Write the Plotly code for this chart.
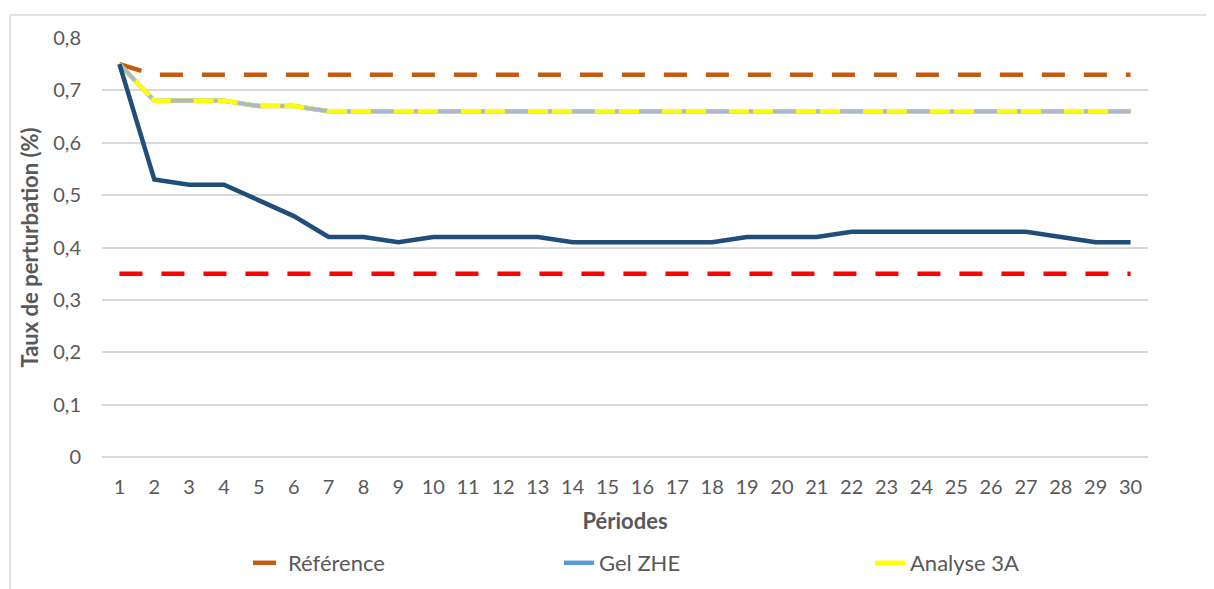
import plotly.graph_objects as go

periods = list(range(1, 31))
reference = [0.75] + [0.73] * 29
seuil_bas = [0.35] * 30
gel_zhe = [0.75, 0.53, 0.52, 0.52, 0.49, 0.46, 0.42, 0.42, 0.41, 0.42,
           0.42, 0.42, 0.42, 0.41, 0.41, 0.41, 0.41, 0.41, 0.42, 0.42,
           0.42, 0.43, 0.43, 0.43, 0.43, 0.43, 0.43, 0.42, 0.41, 0.41]
analyse_3a = [0.75, 0.68, 0.68, 0.68, 0.67, 0.67] + [0.66] * 24
y_ticks = [0, 0.1, 0.2, 0.3, 0.4, 0.5, 0.6, 0.7, 0.8]
x_labels = [str(p) for p in periods]

FONT = "Lato"
GREY = "#595959"

fig = go.Figure()

fig.add_trace(go.Scatter(x=x_labels, y=seuil_bas, mode="lines", showlegend=False,
                         line=dict(color="#FF0000", width=4.5, dash="23px,19px")))
fig.add_trace(go.Scatter(x=x_labels, y=reference, mode="lines", name="Référence",
                         line=dict(color="#C55A11", width=4.5, dash="23px,19px")))
fig.add_trace(go.Scatter(x=x_labels, y=analyse_3a, mode="lines", name="Gel ZHE",
                         line=dict(color="#5B9BD5", width=4.5)))
fig.add_trace(go.Scatter(x=x_labels, y=analyse_3a, mode="lines", name="Analyse 3A",
                         line=dict(color="#FFFF00", width=4.5)))
fig.add_trace(go.Scatter(x=x_labels, y=analyse_3a, mode="lines", showlegend=False,
                         line=dict(color="#ADB9CA", width=4, dash="23px,20px,4px,20px")))
fig.add_trace(go.Scatter(x=x_labels, y=gel_zhe, mode="lines", showlegend=False,
                         line=dict(color="#1F4E79", width=4.5)))

L, R, T, B = 94, 74, 30, 140
PW, PH = 1214 - L - R, 589 - T - B

fig.update_layout(
    width=1214, height=589,
    margin=dict(l=L, r=R, t=T, b=B, autoexpand=False),
    paper_bgcolor="white", plot_bgcolor="white",
    separators=", ",
    font=dict(family=FONT, size=20, color=GREY),
    legend=dict(orientation="h", x=(240 - L) / PW, xanchor="left", y=-0.253, yanchor="middle",
                entrywidth=266, entrywidthmode="pixels",
                font=dict(family=FONT, size=22, color=GREY)),
    xaxis=dict(type="category", range=[-0.5, 29.5], automargin=False,
               showgrid=False, showline=False, ticks="",
               tickfont=dict(family=FONT, size=20, color=GREY), ticklabelstandoff=16,
               title=dict(text="<b>Périodes</b>", font=dict(family=FONT, size=22, color=GREY),
                          standoff=16)),
    yaxis=dict(range=[0, 0.8], tickvals=y_ticks, tickformat=".1~f", automargin=False,
               showgrid=True, gridcolor="#D9D9D9", gridwidth=1.5,
               zeroline=True, zerolinecolor="#D9D9D9", zerolinewidth=1.5,
               showline=False, ticks="", ticklabelstandoff=20,
               tickfont=dict(family=FONT, size=20, color=GREY),
               title=dict(text="<b>Taux de perturbation (%)</b>",
                          font=dict(family=FONT, size=22, color=GREY), standoff=8)),
)

# outer chart border (top and left edges visible)
bx, by = 2, 7
fig.add_shape(type="line", xref="paper", yref="paper",
              x0=(bx - L) / PW, x1=(1214 - L) / PW,
              y0=(589 - B - by) / PH, y1=(589 - B - by) / PH,
              line=dict(color="#D9D9D9", width=1.5))
fig.add_shape(type="line", xref="paper", yref="paper",
              x0=(bx - L) / PW, x1=(bx - L) / PW,
              y0=(589 - B - by) / PH, y1=(589 - B - 620) / PH,
              line=dict(color="#D9D9D9", width=1.5))

fig.write_html("out.html")
